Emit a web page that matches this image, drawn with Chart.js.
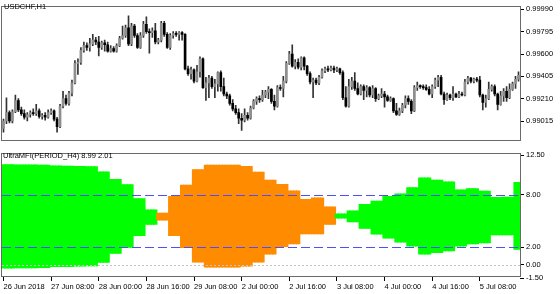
<!DOCTYPE html>
<html><head><meta charset="utf-8">
<script src="https://cdn.jsdelivr.net/npm/chart.js@4.4.1/dist/chart.umd.min.js"></script>
<style>
html,body{margin:0;padding:0;background:#fff;width:560px;height:294px;overflow:hidden;}
canvas{position:absolute;left:0;}
#c1{top:0;}
#c2{top:147px;}
.lbl{position:absolute;font-family:'Liberation Sans',Arial,sans-serif;font-size:7.5px;color:#000;white-space:nowrap;line-height:9px;}
</style></head><body>
<canvas id="c1" width="560" height="147"></canvas>
<canvas id="c2" width="560" height="147"></canvas>
<div class="lbl" style="left:4px;top:2px">USDCHF,H1</div>
<div class="lbl" style="left:3px;top:151px">UltraMFI(PERIOD_H4) 8.99 2.01</div>
<script>
// ---- data: USDCHF H1 candles (bar 0 = 26 Jun 2018 16:00) ----
const open = [0.98950,0.99015,0.99088,0.99015,0.99096,0.99194,0.99112,0.99080,0.99048,0.99072,0.99088,0.99080,0.99104,0.99056,0.99064,0.99048,0.99088,0.99104,0.99031,0.98966,
0.99145,0.99210,0.99169,0.99259,0.99348,0.99518,0.99527,0.99632,0.99673,0.99657,0.99689,0.99722,0.99705,0.99657,0.99697,0.99681,0.99624,0.99648,0.99624,0.99673,
0.99738,0.99762,0.99828,0.99689,0.99844,0.99762,0.99657,0.99762,0.99860,0.99795,0.99787,0.99803,0.99705,0.99722,0.99868,0.99771,0.99657,0.99762,0.99779,0.99771,
0.99787,0.99771,0.99470,0.99429,0.99462,0.99364,0.99445,0.99559,0.99307,0.99348,0.99389,0.99315,0.99340,0.99437,0.99315,0.99251,0.99234,0.99169,0.99121,0.99088,
0.99039,0.99023,0.99064,0.99039,0.99129,0.99186,0.99210,0.99202,0.99242,0.99267,0.99291,0.99186,0.99145,0.99307,0.99299,0.99364,0.99518,0.99600,0.99494,0.99527,
0.99486,0.99567,0.99494,0.99429,0.99356,0.99372,0.99348,0.99397,0.99453,0.99470,0.99462,0.99478,0.99462,0.99470,0.99437,0.99218,0.99145,0.99315,0.99364,0.99299,
0.99251,0.99315,0.99283,0.99307,0.99242,0.99299,0.99210,0.99234,0.99251,0.99226,0.99194,0.99210,0.99104,0.99072,0.99104,0.99153,0.99210,0.99186,0.99104,0.99307,
0.99324,0.99315,0.99307,0.99291,0.99251,0.99315,0.99372,0.99397,0.99251,0.99202,0.99242,0.99218,0.99251,0.99226,0.99251,0.99242,0.99356,0.99389,0.99364,0.99380,
0.99372,0.99242,0.99177,0.99210,0.99291,0.99315,0.99251,0.99161,0.99234,0.99275,0.99218,0.99291,0.99340,0.99380];
const high = [0.99031,0.99218,0.99104,0.99112,0.99242,0.99210,0.99137,0.99112,0.99088,0.99104,0.99121,0.99161,0.99121,0.99080,0.99088,0.99112,0.99121,0.99112,0.99048,0.99161,
0.99275,0.99242,0.99275,0.99372,0.99543,0.99559,0.99657,0.99705,0.99697,0.99738,0.99771,0.99746,0.99754,0.99714,0.99722,0.99705,0.99673,0.99665,0.99689,0.99754,
0.99844,0.99852,0.99934,0.99868,0.99860,0.99779,0.99787,0.99885,0.99925,0.99819,0.99828,0.99868,0.99738,0.99885,0.99885,0.99787,0.99779,0.99795,0.99795,0.99795,
0.99795,0.99779,0.99494,0.99486,0.99470,0.99502,0.99575,0.99567,0.99397,0.99413,0.99405,0.99380,0.99445,0.99453,0.99389,0.99267,0.99251,0.99202,0.99153,0.99121,
0.99080,0.99121,0.99088,0.99145,0.99202,0.99226,0.99234,0.99283,0.99283,0.99315,0.99299,0.99242,0.99324,0.99332,0.99405,0.99535,0.99624,0.99681,0.99551,0.99559,
0.99575,0.99575,0.99502,0.99445,0.99389,0.99389,0.99413,0.99470,0.99486,0.99494,0.99494,0.99494,0.99486,0.99478,0.99453,0.99315,0.99380,0.99397,0.99437,0.99348,
0.99332,0.99332,0.99324,0.99315,0.99324,0.99307,0.99251,0.99299,0.99275,0.99242,0.99226,0.99218,0.99169,0.99129,0.99169,0.99234,0.99234,0.99202,0.99324,0.99356,
0.99332,0.99332,0.99332,0.99315,0.99332,0.99389,0.99413,0.99413,0.99267,0.99259,0.99251,0.99315,0.99259,0.99275,0.99267,0.99380,0.99405,0.99397,0.99389,0.99397,
0.99405,0.99251,0.99242,0.99356,0.99332,0.99332,0.99259,0.99275,0.99299,0.99315,0.99340,0.99356,0.99405,0.99445];
const low = [0.98918,0.98991,0.98999,0.98999,0.99088,0.99096,0.99064,0.99031,0.99015,0.99048,0.99064,0.99064,0.99039,0.99031,0.99023,0.99039,0.99072,0.99015,0.98918,0.98958,
0.99129,0.99153,0.99153,0.99234,0.99340,0.99421,0.99510,0.99616,0.99632,0.99624,0.99673,0.99681,0.99583,0.99640,0.99624,0.99616,0.99616,0.99616,0.99616,0.99665,
0.99730,0.99746,0.99673,0.99673,0.99746,0.99648,0.99648,0.99746,0.99779,0.99608,0.99746,0.99689,0.99689,0.99705,0.99754,0.99648,0.99640,0.99738,0.99754,0.99722,
0.99722,0.99462,0.99413,0.99380,0.99348,0.99356,0.99397,0.99299,0.99194,0.99218,0.99299,0.99218,0.99275,0.99275,0.99234,0.99210,0.99153,0.99104,0.99072,0.98991,
0.98934,0.99007,0.99023,0.99031,0.99121,0.99161,0.99177,0.99186,0.99218,0.99210,0.99169,0.99112,0.99137,0.99283,0.99226,0.99348,0.99510,0.99486,0.99470,0.99470,
0.99462,0.99462,0.99413,0.99340,0.99218,0.99332,0.99332,0.99389,0.99437,0.99445,0.99453,0.99437,0.99445,0.99421,0.99202,0.99137,0.99137,0.99291,0.99283,0.99242,
0.99242,0.99202,0.99226,0.99226,0.99218,0.99186,0.99202,0.99218,0.99137,0.99186,0.99186,0.99088,0.99064,0.99064,0.99088,0.99129,0.99161,0.99080,0.99096,0.99283,
0.99299,0.99291,0.99283,0.99242,0.99218,0.99299,0.99315,0.99242,0.99161,0.99194,0.99202,0.99194,0.99218,0.99218,0.99234,0.99234,0.99340,0.99348,0.99348,0.99356,
0.99226,0.99112,0.99137,0.99202,0.99275,0.99234,0.99112,0.99153,0.99186,0.99186,0.99210,0.99283,0.99299,0.99364];
const close = [0.99015,0.99088,0.99015,0.99096,0.99194,0.99112,0.99080,0.99048,0.99072,0.99088,0.99080,0.99104,0.99056,0.99064,0.99048,0.99088,0.99104,0.99031,0.98966,0.99145,
0.99210,0.99169,0.99259,0.99348,0.99518,0.99527,0.99632,0.99673,0.99657,0.99689,0.99722,0.99705,0.99657,0.99697,0.99681,0.99624,0.99648,0.99624,0.99673,0.99738,
0.99762,0.99828,0.99689,0.99844,0.99762,0.99657,0.99762,0.99860,0.99795,0.99787,0.99803,0.99705,0.99722,0.99868,0.99771,0.99657,0.99762,0.99779,0.99771,0.99787,
0.99771,0.99470,0.99429,0.99462,0.99364,0.99445,0.99559,0.99307,0.99348,0.99389,0.99315,0.99340,0.99437,0.99315,0.99251,0.99234,0.99169,0.99121,0.99088,0.99039,
0.99023,0.99064,0.99039,0.99129,0.99186,0.99210,0.99202,0.99242,0.99267,0.99291,0.99186,0.99145,0.99307,0.99299,0.99364,0.99518,0.99600,0.99494,0.99527,0.99486,
0.99567,0.99494,0.99429,0.99356,0.99372,0.99348,0.99397,0.99453,0.99470,0.99462,0.99478,0.99462,0.99470,0.99437,0.99218,0.99145,0.99315,0.99364,0.99299,0.99251,
0.99315,0.99283,0.99307,0.99242,0.99299,0.99210,0.99234,0.99251,0.99226,0.99194,0.99210,0.99104,0.99072,0.99104,0.99153,0.99210,0.99186,0.99104,0.99307,0.99324,
0.99315,0.99307,0.99291,0.99251,0.99315,0.99372,0.99397,0.99251,0.99202,0.99242,0.99218,0.99251,0.99226,0.99251,0.99242,0.99356,0.99389,0.99364,0.99380,0.99372,
0.99242,0.99177,0.99210,0.99291,0.99315,0.99251,0.99161,0.99234,0.99275,0.99218,0.99291,0.99340,0.99380,0.99413];

const priceTicks = [0.99015, 0.99210, 0.99405, 0.99600, 0.99795, 0.99990];
const priceMin = 0.98845, priceMax = 1.00015;

// ---- UltraMFI(PERIOD_H4): one value per H4 block (4 H1 bars) ----
const mfiUpper = [11.42,11.40,11.40,11.38,11.28,11.25,11.23,11.20,10.60,9.74,9.14,7.55,6.27,5.90,7.82,9.10,10.86,11.38,11.38,11.38,11.23,10.57,9.65,9.18,8.44,7.46,7.64,6.61,5.81,6.17,6.91,7.27,7.82,8.11,8.81,9.91,9.65,9.47,8.55,8.70,8.40,7.70,7.72,9.40];
const mfiLower = [-0.36,-0.35,-0.33,-0.30,-0.20,-0.18,-0.15,-0.12,0.30,1.32,2.00,3.33,4.62,5.10,3.33,1.96,0.31,-0.24,-0.24,-0.24,-0.13,0.31,1.23,2.07,2.40,3.54,3.54,4.63,5.33,4.89,4.16,3.50,3.06,2.60,2.14,1.23,1.41,1.59,2.14,2.40,2.50,3.42,3.42,1.78];
const mfiTrend = [1,1,1,1,1,1,1,1,1,1,1,1,1,-1,-1,-1,-1,-1,-1,-1,-1,-1,-1,-1,-1,-1,-1,-1,1,1,1,1,1,1,1,1,1,1,1,1,1,1,1,1];
const barsPerBlock = 4;
const mfiLevels = [8, 2];
const zeroLevel = [0];
const mfiTicks = [-1.5, 0, 2, 8, 12.5];
const mfiMin = -1.37, mfiMax = 12.69;

const xTickLabels = ['26 Jun 2018','27 Jun 08:00','28 Jun 00:00','28 Jun 16:00','29 Jun 08:00','2 Jul 00:00','2 Jul 16:00','3 Jul 08:00','4 Jul 00:00','4 Jul 16:00','5 Jul 08:00'];
const xTickEvery = 16;

// ---- styles ----
const FONT = {family: "'Liberation Sans', Arial, sans-serif", size: 7.5};
const BULL = '#8e8e8e', BEAR = '#000000', WICK = '#333333', FRAME = '#6a6a6a';
const GREEN = '#00ff00', ORANGE = '#ff8c00', LEVEL = '#4e4eff', ZERO = '#c4c4c4';

Chart.defaults.font.family = FONT.family;
Chart.defaults.font.size = FONT.size;
Chart.defaults.color = '#000';

const n = close.length;
const cats = close.map((_, i) => i);

const framePlugin = {
  id: 'frame',
  afterDraw(chart) {
    const {ctx, chartArea: a} = chart;
    ctx.save();
    ctx.setLineDash([]);
    ctx.strokeStyle = FRAME;
    ctx.lineWidth = 1;
    const l = Math.round(a.left) - 0.5, t = Math.round(a.top) - 0.5;
    const r = Math.round(a.right) + 0.5, b = Math.round(a.bottom) - 0.5;
    ctx.strokeRect(l, t, r - l, b - t);
    ctx.restore();
  }
};

const yAxisCommon = {
  position: 'right',
  afterFit: ax => { ax.width = 40; },
  grid: {drawOnChartArea: false, drawTicks: true, tickLength: 4, color: '#000'},
  border: {display: false},
  ticks: {padding: 2, color: '#000', font: FONT}
};

// ---- top pane: candles ----
new Chart(document.getElementById('c1'), {
  type: 'bar',
  data: {
    labels: cats,
    datasets: [
      {data: low.map((l, i) => [l, high[i]]), backgroundColor: WICK, barThickness: 1, grouped: false, order: 2},
      {data: open.map((o, i) => [Math.min(o, close[i]), Math.max(o, close[i])]),
       backgroundColor: open.map((o, i) => close[i] >= o ? BULL : BEAR),
       barThickness: 2, minBarLength: 1, grouped: false, order: 1}
    ]
  },
  options: {
    responsive: false, animation: false, events: [],
    layout: {padding: {left: 2, top: 2, right: 0, bottom: 1}},
    plugins: {legend: {display: false}, tooltip: {enabled: false}},
    scales: {
      x: {display: false, offset: true},
      y: Object.assign({}, yAxisCommon, {
        min: priceMin, max: priceMax,
        afterBuildTicks: ax => { ax.ticks = priceTicks.map(v => ({value: v})); },
        ticks: Object.assign({}, yAxisCommon.ticks, {callback: v => Number(v).toFixed(5)})
      })
    }
  },
  plugins: [framePlugin]
});

// ---- bottom pane: UltraMFI ----
const mfiBars = cats.map(i => {
  const k = Math.floor(i / barsPerBlock);
  return [mfiLower[k], mfiUpper[k]];
});
const mfiColors = cats.map(i => mfiTrend[Math.floor(i / barsPerBlock)] > 0 ? GREEN : ORANGE);

const levelPlugin = {
  id: 'levels',
  afterDatasetsDraw(chart) {
    const {ctx, chartArea: a, scales: {y}} = chart;
    ctx.save();
    ctx.lineWidth = 1;
    const line = (v, color, dash) => {
      const py = Math.round(y.getPixelForValue(v)) + 0.5;
      ctx.strokeStyle = color;
      ctx.setLineDash(dash);
      ctx.beginPath();
      ctx.moveTo(a.left, py);
      ctx.lineTo(a.right, py);
      ctx.stroke();
    };
    zeroLevel.forEach(v => line(v, ZERO, [2, 2]));
    mfiLevels.forEach(v => line(v, LEVEL, [9, 4]));
    ctx.restore();
  }
};

new Chart(document.getElementById('c2'), {
  type: 'bar',
  data: {
    labels: cats,
    datasets: [{data: mfiBars, backgroundColor: mfiColors, barThickness: 3.6, grouped: false, borderWidth: 0}]
  },
  options: {
    responsive: false, animation: false, events: [],
    layout: {padding: {left: 2, top: 2, right: 0, bottom: 0}},
    plugins: {legend: {display: false}, tooltip: {enabled: false}},
    scales: {
      x: {
        offset: true,
        afterBuildTicks: ax => { ax.ticks = ax.ticks.filter(t => t.value % xTickEvery === 0); },
        afterFit: ax => { ax.height = 17; },
        grid: {display: true, drawOnChartArea: false, drawTicks: true, tickLength: 4, color: '#000', offset: false},
        border: {display: false},
        ticks: {autoSkip: false, maxRotation: 0, minRotation: 0, align: 'start', padding: 1, color: '#000', font: FONT,
                callback: v => xTickLabels[v / xTickEvery] || ''}
      },
      y: Object.assign({}, yAxisCommon, {
        min: mfiMin, max: mfiMax,
        afterBuildTicks: ax => { ax.ticks = mfiTicks.map(v => ({value: v})); },
        ticks: Object.assign({}, yAxisCommon.ticks, {callback: v => Number(v).toFixed(2)})
      })
    }
  },
  plugins: [levelPlugin, framePlugin]
});
</script>
</body></html>
